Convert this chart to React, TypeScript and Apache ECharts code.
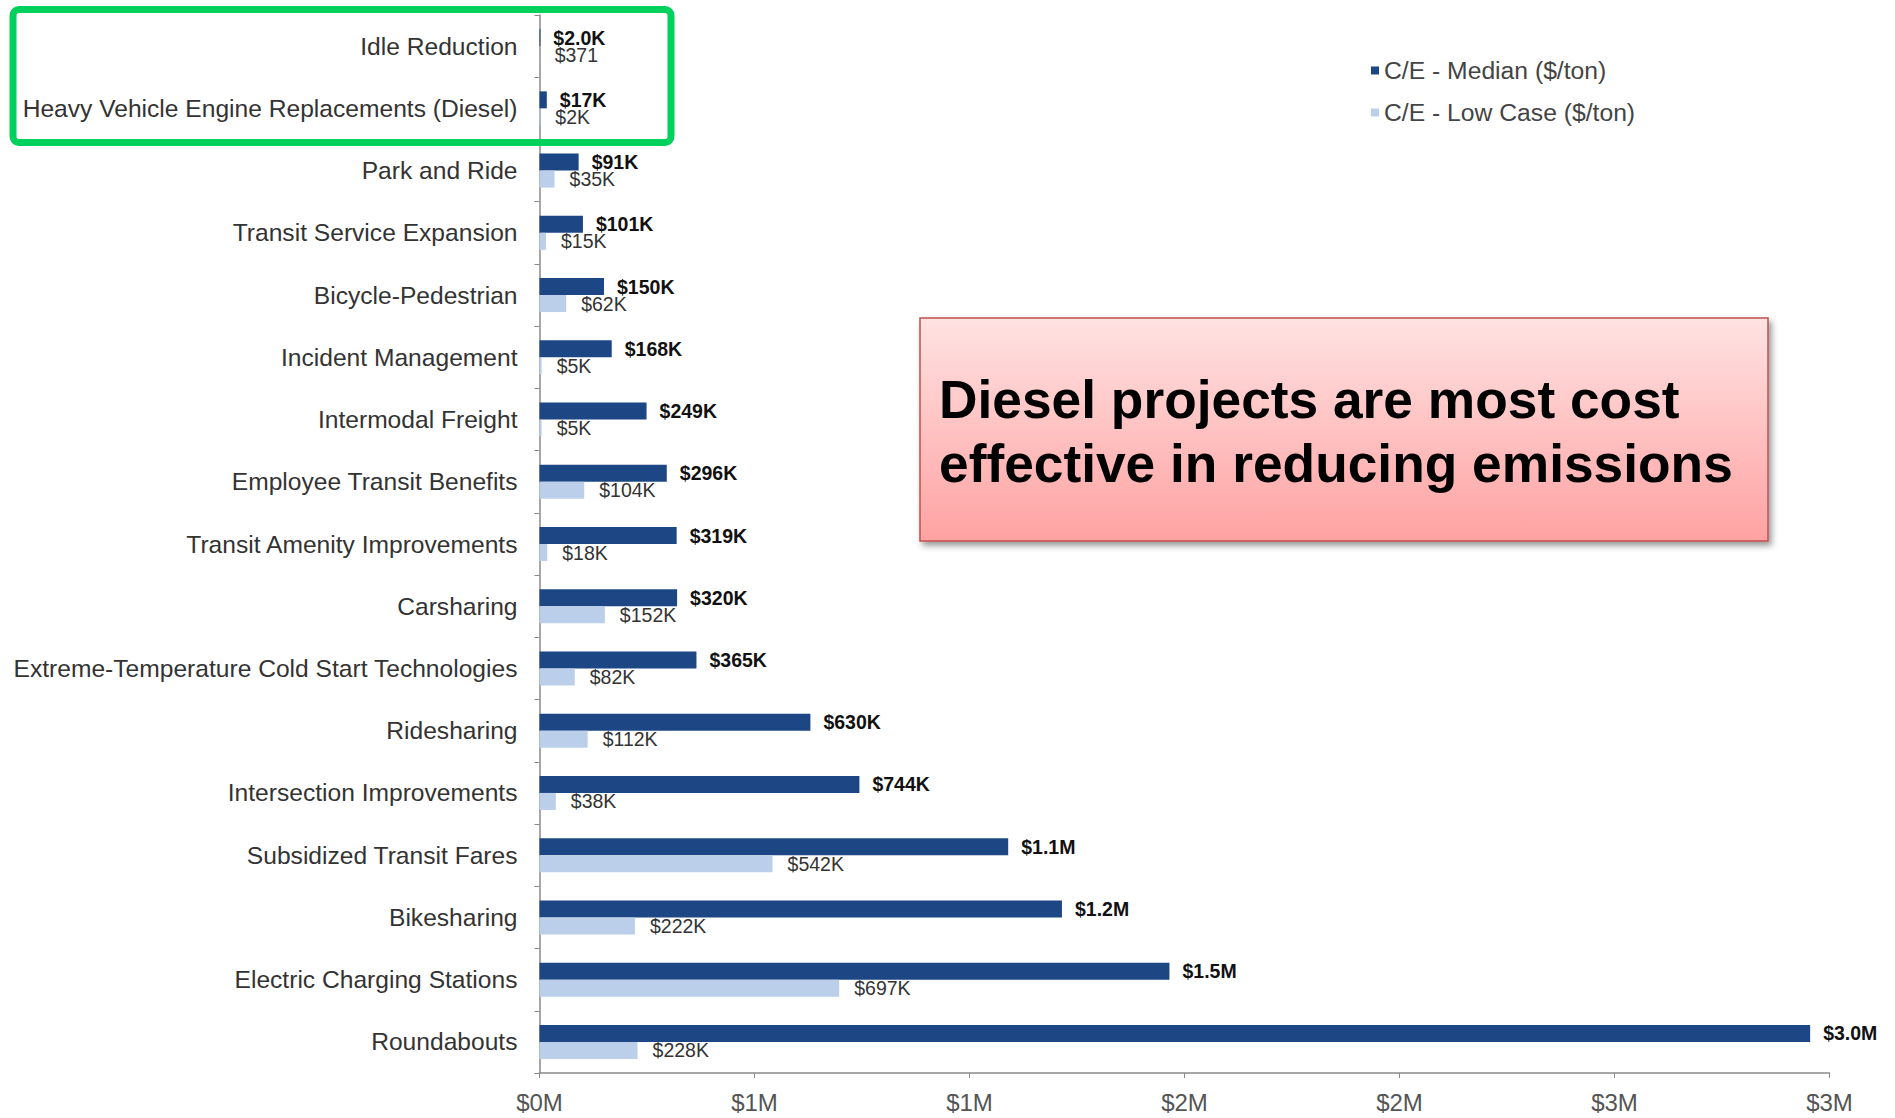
import React, { useEffect, useRef } from "react";
import * as echarts from "echarts";

const categories = [
  "Idle Reduction",
  "Heavy Vehicle Engine Replacements (Diesel)",
  "Park and Ride",
  "Transit Service Expansion",
  "Bicycle-Pedestrian",
  "Incident Management",
  "Intermodal Freight",
  "Employee Transit Benefits",
  "Transit Amenity Improvements",
  "Carsharing",
  "Extreme-Temperature Cold Start Technologies",
  "Ridesharing",
  "Intersection Improvements",
  "Subsidized Transit Fares",
  "Bikesharing",
  "Electric Charging Stations",
  "Roundabouts",
];

const medianValues = [
  2000, 17000, 91000, 101000, 150000, 168000, 249000, 296000, 319000, 320000,
  365000, 630000, 744000, 1090000, 1215000, 1465000, 2955000,
];

const lowValues = [
  371, 2000, 35000, 15000, 62000, 5000, 5000, 104000, 18000, 152000, 82000,
  112000, 38000, 542000, 222000, 697000, 228000,
];

const seriesNames = ["C/E - Median ($/ton)", "C/E - Low Case ($/ton)"];
const axisMax = 3000000;
const axisInterval = 500000;
const calloutLines = ["Diesel projects are most cost", "effective in reducing emissions"];

const FONT = "'Liberation Sans', Arial, Helvetica, sans-serif";

function fmtMedian(v: number): string {
  if (v >= 1e6) return "$" + (v / 1e6).toFixed(1) + "M";
  if (v >= 10000) return "$" + Math.round(v / 1000) + "K";
  return "$" + (v / 1000).toFixed(1) + "K";
}
function fmtLow(v: number): string {
  if (v >= 1e6) return "$" + (v / 1e6).toFixed(1) + "M";
  if (v >= 1000) return "$" + Math.round(v / 1000) + "K";
  return "$" + v;
}

export default function App() {
  const ref = useRef<HTMLDivElement>(null);
  useEffect(() => {
    document.body.style.margin = "0";
    if (!ref.current) return;
    const chart = echarts.init(ref.current, null, { renderer: "svg" });
    chart.setOption({
      animation: false,
      backgroundColor: "#ffffff",
      textStyle: { fontFamily: FONT },
      grid: { left: 539.5, right: 65.5, top: 15, bottom: 45, containLabel: false },
      legend: {
        orient: "vertical",
        left: 1366,
        top: 53,
        itemGap: 17,
        itemWidth: 8,
        itemHeight: 8,
        icon: "rect",
        textStyle: { fontSize: 24.7, color: "#444", fontFamily: FONT },
        data: seriesNames,
      },
      xAxis: {
        type: "value",
        min: 0,
        max: axisMax,
        interval: axisInterval,
        splitLine: { show: false },
        axisLine: { show: true, lineStyle: { color: "#8a8a8a", width: 1.5 } },
        axisTick: { show: true, length: 5, lineStyle: { color: "#8a8a8a" } },
        axisLabel: {
          fontSize: 24,
          color: "#555",
          margin: 17,
          fontFamily: FONT,
          formatter: (v: number) => "$" + Math.round(v / 1e6) + "M",
        },
      },
      yAxis: {
        type: "category",
        inverse: true,
        data: categories,
        axisLine: { show: true, lineStyle: { color: "#8a8a8a", width: 1.5 } },
        axisTick: { show: true, length: 5, lineStyle: { color: "#8a8a8a" } },
        axisLabel: { fontSize: 24.6, color: "#333", margin: 22, fontFamily: FONT },
      },
      series: [
        {
          name: seriesNames[0],
          type: "bar",
          data: medianValues,
          barWidth: 17,
          barGap: "0%",
          itemStyle: { color: "#1d4784" },
          label: {
            show: true,
            position: "right",
            distance: 13,
            fontSize: 19.5,
            fontWeight: "bold",
            color: "#111",
            fontFamily: FONT,
            formatter: (p: any) => fmtMedian(p.value),
          },
        },
        {
          name: seriesNames[1],
          type: "bar",
          data: lowValues,
          barWidth: 17,
          barGap: "0%",
          itemStyle: { color: "#bbcfea" },
          label: {
            show: true,
            position: "right",
            distance: 15,
            fontSize: 19.5,
            color: "#333",
            fontFamily: FONT,
            formatter: (p: any) => fmtLow(p.value),
          },
        },
      ],
      graphic: [
        {
          type: "rect",
          shape: { x: 13, y: 9.5, width: 658, height: 133, r: 6 },
          style: { fill: "none", stroke: "#00d15c", lineWidth: 7 },
          z: 100,
        },
        {
          type: "rect",
          shape: { x: 920, y: 318, width: 848, height: 223 },
          style: {
            fill: new echarts.graphic.LinearGradient(0, 0, 0, 1, [
              { offset: 0, color: "#ffe2e2" },
              { offset: 1, color: "#ffa2a2" },
            ]),
            stroke: "#c0504d",
            lineWidth: 1.5,
            shadowBlur: 6,
            shadowOffsetX: 3,
            shadowOffsetY: 4,
            shadowColor: "rgba(0,0,0,0.4)",
          },
          z: 100,
        },
        {
          type: "text",
          x: 939,
          y: 399,
          style: {
            text: calloutLines[0],
            fontSize: 53.3,
            fontWeight: "bold",
            fontFamily: FONT,
            fill: "#000",
            verticalAlign: "middle",
          },
          z: 101,
        },
        {
          type: "text",
          x: 939,
          y: 463,
          style: {
            text: calloutLines[1],
            fontSize: 53.3,
            fontWeight: "bold",
            fontFamily: FONT,
            fill: "#000",
            verticalAlign: "middle",
          },
          z: 101,
        },
      ],
    });
    return () => chart.dispose();
  }, []);
  return (
    <div
      ref={ref}
      style={{ position: "fixed", left: 0, top: 0, width: 1895, height: 1118 }}
    />
  );
}
